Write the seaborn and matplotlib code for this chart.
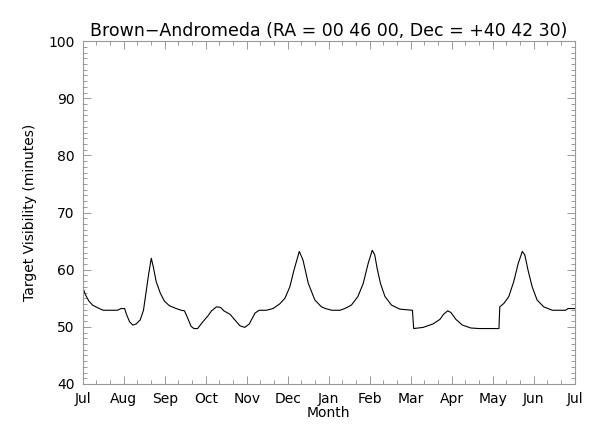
import matplotlib
matplotlib.use("Agg")
import matplotlib.pyplot as plt
import seaborn as sns
import pandas as pd
from matplotlib.ticker import MultipleLocator

month_labels = ["Jul", "Aug", "Sep", "Oct", "Nov", "Dec", "Jan", "Feb", "Mar", "Apr", "May", "Jun", "Jul"]

month_pos = [0.00, 0.065, 0.15, 0.24, 0.37, 0.50, 0.85, 0.93, 1.02, 1.07, 1.14, 1.22, 1.30, 1.40,
             1.48, 1.54, 1.61, 1.67, 1.72, 1.79, 1.89, 1.99, 2.11, 2.28, 2.40, 2.48, 2.56, 2.64,
             2.71, 2.80, 2.93, 3.05, 3.14, 3.26, 3.36, 3.44, 3.59, 3.71, 3.83, 3.95, 4.06, 4.20,
             4.30, 4.48, 4.64, 4.80, 4.93, 5.05, 5.15, 5.28, 5.37, 5.50, 5.66, 5.82, 5.92, 6.07,
             6.27, 6.39, 6.55, 6.71, 6.84, 6.96, 7.06, 7.12, 7.18, 7.26, 7.37, 7.53, 7.73, 8.04,
             8.07, 8.30, 8.54, 8.71, 8.80, 8.90, 8.98, 9.10, 9.26, 9.46, 9.66, 10.15, 10.17, 10.27,
             10.39, 10.51, 10.62, 10.72, 10.78, 10.86, 10.96, 11.08, 11.24, 11.45, 11.77, 11.84,
             11.94, 12.00]
visibility = [56.9, 55.6, 54.5, 53.8, 53.3, 52.9, 52.9, 53.2, 53.2, 52.1, 50.9, 50.3, 50.5, 51.2,
              52.9, 55.9, 59.4, 62.0, 60.5, 57.9, 55.9, 54.5, 53.7, 53.2, 52.9, 52.8, 51.5, 50.1,
              49.7, 49.7, 50.9, 51.9, 52.8, 53.5, 53.4, 52.8, 52.2, 51.2, 50.2, 49.9, 50.5, 52.4,
              52.9, 52.9, 53.2, 54.0, 55.0, 57.0, 59.9, 63.2, 61.7, 57.6, 54.7, 53.5, 53.2, 52.9,
              52.9, 53.2, 53.8, 55.3, 57.6, 61.1, 63.4, 62.6, 60.2, 57.6, 55.3, 53.8, 53.1, 52.9,
              49.7, 49.9, 50.5, 51.3, 52.2, 52.8, 52.5, 51.3, 50.3, 49.8, 49.7, 49.7, 53.5, 54.1,
              55.3, 57.9, 61.1, 63.2, 62.6, 59.9, 57.0, 54.7, 53.5, 52.9, 52.9, 53.2,
              53.2, 53.2]

df = pd.DataFrame({"month": month_pos, "vis": visibility})

sns.set_style("white")
plt.rcParams["font.family"] = ["DejaVu Sans"]
plt.rcParams["text.color"] = "black"
plt.rcParams["axes.labelcolor"] = "black"

fig = plt.figure(figsize=(6.0, 4.29), dpi=100)
ax = fig.add_axes([0.138, 0.105, 0.82, 0.799])

sns.lineplot(data=df, x="month", y="vis", ax=ax, color="black", linewidth=0.8, sort=True)

ax.set_xlim(0, 12)
ax.set_ylim(40, 100)
ax.set_xticks(range(13))
ax.set_xticklabels(month_labels)
ax.xaxis.set_minor_locator(MultipleLocator(1 / 3))
ax.yaxis.set_major_locator(MultipleLocator(10))
ax.yaxis.set_minor_locator(MultipleLocator(1))

for s in ax.spines.values():
    s.set_color("#999999")
    s.set_linewidth(0.8)

ax.tick_params(which="both", direction="in", top=True, right=True, bottom=True, left=True,
               colors="#999999", labelcolor="black", labelsize=10, width=0.7)
ax.tick_params(which="major", length=6, pad=6)
ax.tick_params(which="minor", length=3)

ax.set_xlabel("Month", fontsize=10, labelpad=0, color="black")
ax.set_ylabel("Target Visibility (minutes)", fontsize=10, labelpad=8, color="black")
ax.set_title("Brown\u2212Andromeda (RA = 00 46 00, Dec = +40 42 30)", fontsize=12.5, pad=4,
             color="black")

fig.savefig("out.png", dpi=100)
